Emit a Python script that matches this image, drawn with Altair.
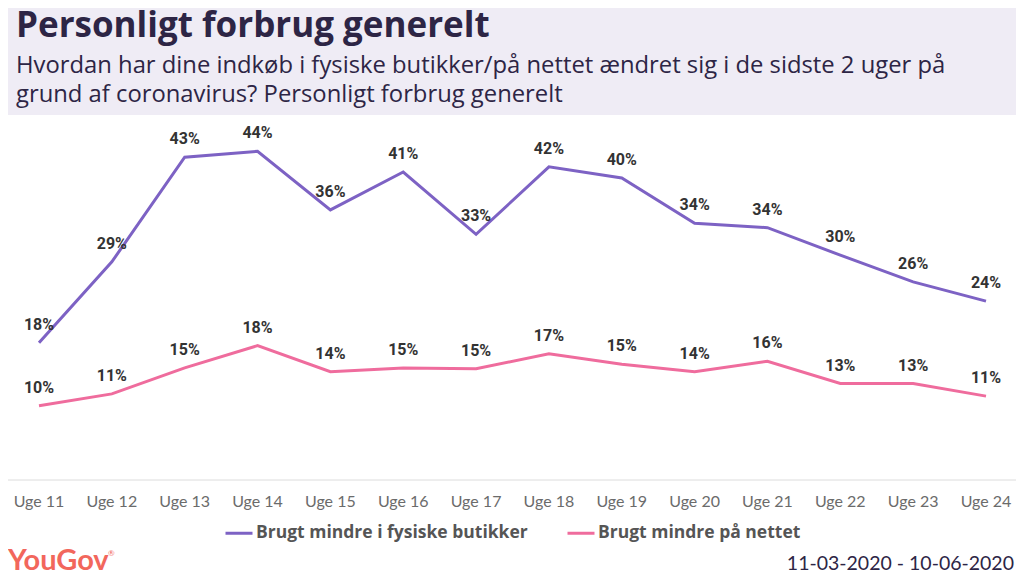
import altair as alt
import pandas as pd

# uger og andele (%)
uger = ["Uge 11", "Uge 12", "Uge 13", "Uge 14", "Uge 15", "Uge 16", "Uge 17",
        "Uge 18", "Uge 19", "Uge 20", "Uge 21", "Uge 22", "Uge 23", "Uge 24"]
fysiske = [18.1, 29.0, 43.1, 43.9, 36.0, 41.1, 32.7, 41.8, 40.3, 34.2, 33.6, 29.9, 26.3, 23.7]
nettet = [9.6, 11.2, 14.7, 17.7, 14.2, 14.7, 14.6, 16.6, 15.2, 14.2, 15.6, 12.6, 12.6, 10.9]
serier = ["Brugt mindre i fysiske butikker", "Brugt mindre på nettet"]
farver = ["#7d62c4", "#ef6c9d"]

titel = "Personligt forbrug generelt"
undertitel = ["Hvordan har dine indkøb i fysiske butikker/på nettet ændret sig i de sidste 2 uger på",
              "grund af coronavirus? Personligt forbrug generelt"]
periode = "11-03-2020 - 10-06-2020"

W, H = 1008, 567

df = pd.DataFrame({
    'uge': uger * 2,
    'serie': [serier[0]] * len(uger) + [serier[1]] * len(uger),
    'andel': fysiske + nettet,
})
en = pd.DataFrame({'a': [0]})

x = alt.X('uge:N', sort=uger, scale=alt.Scale(type='point', range=[31, 978], padding=0), axis=None)
y = alt.Y('andel:Q', scale=alt.Scale(domain=[0, 40], range=[469, 172.2], nice=False, zero=False), axis=None)

band = alt.Chart(en).mark_rect(color='#efecf5').encode(
    x=alt.value(0), x2=alt.value(W), y=alt.value(0), y2=alt.value(107))

overskrift = alt.Chart(en).mark_text(
    text=titel, align='left', baseline='alphabetic', font='Open Sans', fontSize=35,
    fontWeight='bold', color='#2d2545').encode(x=alt.value(8), y=alt.value(29))

under = alt.Chart(en).mark_text(
    text=undertitel, align='left', baseline='alphabetic', font='Open Sans', fontSize=23.8,
    lineHeight=29, color='#2d2545').encode(x=alt.value(8), y=alt.value(65))

akse = alt.Chart(en).mark_rule(color='#dcdcdc', strokeWidth=1).encode(
    x=alt.value(0), x2=alt.value(W), y=alt.value(472))

linjer = alt.Chart(df).mark_line(strokeWidth=3).encode(
    x=x, y=y,
    color=alt.Color('serie:N', scale=alt.Scale(domain=serier, range=farver),
                    legend=alt.Legend(orient='none', legendX=216, legendY=510, direction='horizontal',
                                      title=None, symbolType='stroke', symbolSize=729,
                                      symbolStrokeWidth=3, labelFont='Open Sans', labelFontSize=17.5,
                                      labelFontWeight='bold', labelColor='#555', labelOffset=2,
                                      labelLimit=0, columnPadding=33)))

etiketter = alt.Chart(df).transform_calculate(
    label="format(datum.andel, '.0f') + '%'"
).mark_text(font='Roboto', fontSize=16, fontWeight='bold', color='#333',
            baseline='alphabetic', dy=-13).encode(x=x, y=y, text='label:N')

ugetekst = alt.Chart(pd.DataFrame({'uge': uger})).mark_text(
    font='Lato', fontSize=16, color='#6b6b6b', baseline='alphabetic').encode(
    x=x, y=alt.value(499), text='uge:N')

logo = alt.Chart(en).mark_text(
    text='YouGov', align='left', baseline='alphabetic', font='Lato', fontSize=29,
    fontWeight='bold', color='#f2675c').encode(x=alt.value(0), y=alt.value(562))

reg = alt.Chart(en).mark_text(
    text='®', align='left', baseline='alphabetic', font='Lato', fontSize=8,
    color='#f2675c').encode(x=alt.value(100), y=alt.value(548))

dato = alt.Chart(en).mark_text(
    text=periode, align='right', baseline='alphabetic', font='Lato', fontSize=19.5,
    color='#2d2545').encode(x=alt.value(1006), y=alt.value(562))

chart = alt.layer(band, overskrift, under, akse, linjer, etiketter, ugetekst, logo, reg, dato).properties(
    width=W, height=H, autosize=alt.AutoSizeParams(type='none'), padding=0
).configure_view(stroke=None)

chart.save("out.html", embed_options={"renderer": "svg", "actions": False})
